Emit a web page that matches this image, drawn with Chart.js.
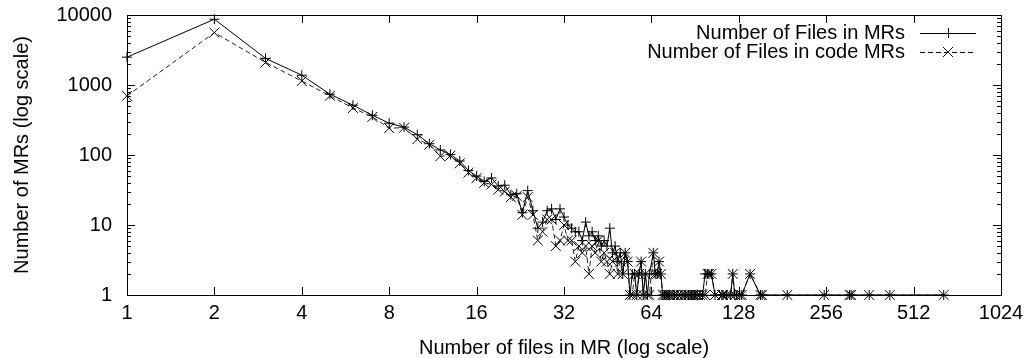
<!DOCTYPE html>
<html lang="en">
<head>
    <meta charset="UTF-8">
    <title>Number of files in MR</title>
    <script src="https://cdn.jsdelivr.net/npm/chart.js"></script>
    <style>
        body { margin: 0; background: #fff; }
        canvas { display: block; }
    </style>
</head>
<body>
    <canvas id="myChart" width="1028" height="358"></canvas>

    <script>
        // files per MR (x) and how many MRs had that many files
        const filesPerMR = [1, 2, 3, 4, 5, 6, 7, 8, 9, 10, 11, 12, 13, 14, 15, 16, 17, 18, 19, 20,
            21, 22, 23, 24, 25, 26, 27, 28, 29, 30, 31, 32, 33, 34, 35, 36, 37, 38, 39, 40,
            41, 42, 43, 44, 45, 46, 47, 48, 49, 50, 51, 52, 53, 54, 55, 56, 57, 58, 59, 60,
            61, 62, 63, 65, 66, 67, 68, 69, 70, 71, 72, 73, 74, 76, 77, 79, 81, 83, 84, 86,
            88, 89, 90, 92, 94, 96, 98, 100, 101, 103, 106, 112, 113, 116, 120, 122, 124, 126, 129, 131,
            140, 152, 154, 188, 252, 308, 312, 360, 424, 650];
        const allMRs = [2500, 8700, 2400, 1380, 740, 515, 370, 285, 250, 195, 145, 118, 102, 82, 60, 50, 42, 47, 36, 37,
            27, 28, 15, 31, 16, 9, 11, 16, 17, 12, 17, 13, 10, 9, 8, 8, 6, 11, 7, 8,
            6, 7, 5, 6, 5, 9, 4, 5, 3, 4, 2, 4, 3, 1, 2, 2, 1, 2, 3, 1,
            2, 1, 2, 4, 2, 2, 3, 2, 1, 1, 1, 1, 1, 1, 1, 1, 1, 1, 1, 1,
            1, 1, 1, 1, 1, 1, 2, 2, 2, 2, 1, 1, 1, 1, 1, 2, 1, 1, 1, 1,
            2, 1, 1, 1, 1, 1, 1, 1, 1, 1];
        const codeMRs = [700, 5600, 2100, 1140, 700, 470, 350, 242, 245, 168, 140, 96, 98, 76, 56, 47, 40, 38, 32, 30,
            25, 26, 14, 25, 14, 6, 8, 12, 12, 5, 6, 10, 6, 6, 3, 5, 4, 5, 2, 5,
            4, 6, 3, 4, 3, 2, 3, 4, 2, 3, 2, 4, 3, 1, 1, 2, 1, 2, 3, 1,
            2, 1, 1, 4, 2, 2, 3, 2, 1, 1, 1, 1, 1, 1, 1, 1, 1, 1, 1, 1,
            1, 1, 1, 1, 1, 1, 1, 2, 2, 2, 1, 1, 1, 1, 1, 2, 1, null, 1, 1,
            2, 1, 1, 1, 1, 1, 1, 1, 1, 1];
        const xTickValues = [1, 2, 4, 8, 16, 32, 64, 128, 256, 512, 1024];
        const yTickValues = [1, 10, 100, 1000, 10000];

        const FONT = 'Liberation Sans, Arial, Helvetica, sans-serif';

        function toPoints(ys) {
            return filesPerMR.map((x, i) => ({ x: x, y: ys[i] })).filter(p => p.y !== null);
        }

        // gnuplot style frame, inward ticks and legend
        const gnuplotFrame = {
            id: 'gnuplotFrame',
            afterDatasetsDraw(chart) {
                const ctx = chart.ctx;
                const a = chart.chartArea;
                const xs = chart.scales.x, ys = chart.scales.y;
                ctx.save();
                ctx.strokeStyle = '#000';
                ctx.lineWidth = 1;
                ctx.strokeRect(a.left + 0.5, a.top + 0.5, a.right - a.left, a.bottom - a.top);

                ctx.beginPath();
                xTickValues.forEach(v => {
                    const px = Math.round(xs.getPixelForValue(v)) + 0.5;
                    ctx.moveTo(px, a.bottom); ctx.lineTo(px, a.bottom - 8);
                    ctx.moveTo(px, a.top); ctx.lineTo(px, a.top + 8);
                });
                for (let d = 1; d <= 10000; d *= 10) {
                    for (let m = 1; m <= 9; m++) {
                        const v = d * m;
                        if (v > 10000) break;
                        const py = Math.round(ys.getPixelForValue(v)) + 0.5;
                        const len = m === 1 ? 8 : 4;
                        ctx.moveTo(a.left, py); ctx.lineTo(a.left + len, py);
                        ctx.moveTo(a.right, py); ctx.lineTo(a.right - len, py);
                    }
                }
                ctx.stroke();

                // legend, text right aligned, sample on the right
                ctx.font = '20px ' + FONT;
                ctx.fillStyle = '#000';
                ctx.textAlign = 'right';
                ctx.textBaseline = 'middle';
                chart.data.datasets.forEach((ds, i) => {
                    const y = 33 + i * 19;
                    ctx.fillText(ds.label, 905, y);
                    ctx.beginPath();
                    ctx.setLineDash(ds.borderDash || []);
                    ctx.moveTo(920, y + 0.5); ctx.lineTo(976, y + 0.5);
                    ctx.stroke();
                    ctx.setLineDash([]);
                    const r = ds.pointRadius * (ds.pointStyle === 'crossRot' ? 0.707 : 1);
                    ctx.beginPath();
                    if (ds.pointStyle === 'crossRot') {
                        ctx.moveTo(948 - r, y - r); ctx.lineTo(948 + r, y + r);
                        ctx.moveTo(948 - r, y + r); ctx.lineTo(948 + r, y - r);
                    } else {
                        ctx.moveTo(948 - r, y + 0.5); ctx.lineTo(948 + r, y + 0.5);
                        ctx.moveTo(948.5, y - r); ctx.lineTo(948.5, y + r);
                    }
                    ctx.stroke();
                });
                ctx.restore();
            }
        };

        const ctx = document.getElementById('myChart').getContext('2d');
        const myChart = new Chart(ctx, {
            type: 'line',
            data: {
                datasets: [{
                    label: 'Number of Files in MRs',
                    data: toPoints(allMRs),
                    borderColor: '#000',
                    borderWidth: 1,
                    pointStyle: 'cross',
                    pointRadius: 5,
                    pointBorderColor: '#000',
                    pointBorderWidth: 1,
                    tension: 0,
                    clip: false
                }, {
                    label: 'Number of Files in code MRs',
                    data: toPoints(codeMRs),
                    borderColor: '#222',
                    borderWidth: 1,
                    borderDash: [5, 3],
                    pointStyle: 'crossRot',
                    pointRadius: 7,
                    pointBorderColor: '#000',
                    pointBorderWidth: 1,
                    tension: 0,
                    spanGaps: true,
                    clip: false
                }]
            },
            options: {
                responsive: false,
                animation: false,
                layout: { padding: { top: 15, right: 27, left: 0, bottom: 0 } },
                plugins: {
                    legend: { display: false },
                    tooltip: { enabled: false }
                },
                scales: {
                    x: {
                        type: 'logarithmic',
                        min: 1,
                        max: 1024,
                        afterBuildTicks: s => { s.ticks = xTickValues.map(v => ({ value: v })); },
                        afterFit: s => { s.height = 63; s.paddingLeft = 0; s.paddingRight = 0; },
                        grid: { display: false, drawTicks: false },
                        border: { display: false },
                        ticks: {
                            padding: 6,
                            autoSkip: false,
                            maxRotation: 0,
                            color: '#000',
                            font: { family: FONT, size: 20 },
                            callback: v => String(v)
                        },
                        title: {
                            display: true,
                            text: 'Number of files in MR (log scale)',
                            color: '#000',
                            font: { family: FONT, size: 20 },
                            padding: { top: 0, bottom: -2 }
                        }
                    },
                    y: {
                        type: 'logarithmic',
                        min: 1,
                        max: 10000,
                        afterBuildTicks: s => { s.ticks = yTickValues.map(v => ({ value: v })); },
                        afterFit: s => { s.width = 127; s.paddingTop = 0; s.paddingBottom = 0; },
                        grid: { display: false, drawTicks: false },
                        border: { display: false },
                        ticks: {
                            padding: 15,
                            autoSkip: false,
                            color: '#000',
                            font: { family: FONT, size: 20 },
                            callback: v => String(v)
                        },
                        title: {
                            display: true,
                            text: 'Number of MRs (log scale)',
                            color: '#000',
                            font: { family: FONT, size: 20 },
                            padding: { top: 10, bottom: 0 }
                        }
                    }
                }
            },
            plugins: [gnuplotFrame]
        });
    </script>
</body>
</html>
